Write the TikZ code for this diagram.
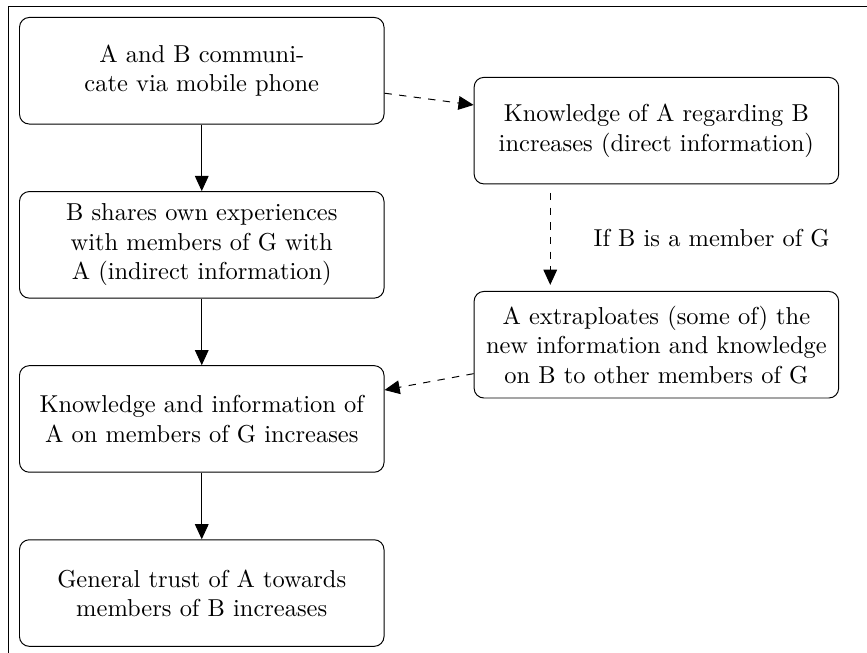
\documentclass[tikz,border=0pt]{standalone}
\usepackage{tikz}
\usetikzlibrary{arrows.meta, positioning}
\tikzstyle{arrow} = [->,>={Triangle[length=6.2pt,width=5.6pt]}]
\tikzstyle{process} = [rectangle, rounded corners, minimum width=5.23cm, minimum height=1.53cm, text width=5cm, align=center, draw=black]

\begin{document}
\begin{tikzpicture}[node distance=2.5cm]
%----------------------------------------------------------------------------
% Placement of flowchart nodes
\node (communicate) [process] {A and B communicate via mobile phone};
\node (sharesExperiences) [process, below of = communicate] {B shares own experiences with members of G with A (indirect information)};
\node (knowledgeGroup) [process, below of = sharesExperiences] {Knowledge and information of A on members of G increases};
\node (generalTrust) [process, below of = knowledgeGroup] {General trust of A towards members of B increases};

\node (knowledgeDirect) [process, right = 1.28cm of communicate, yshift=-0.86cm] {Knowledge of A regarding B increases (direct information)};
\node (extrapolate) [process, below = 1.53cm of knowledgeDirect] {A extraploates (some of) the new information and knowledge on B to other members of G};

%----------------------------------------------------------------------------
% Frame and page size
\coordinate (pageCorner) at ([shift={(-0.273,0.244)}]communicate.north west);
\coordinate (frameCorner) at ([shift={(-0.158,0.158)}]communicate.north west);
\useasboundingbox (pageCorner) rectangle ++(12.45,-9.363);
\draw ([xshift=13cm]frameCorner) -- (frameCorner) -- ([yshift=-10cm]frameCorner);

%----------------------------------------------------------------------------
% Draw lines
\draw [arrow] (communicate) -- (sharesExperiences);
\draw [arrow] (sharesExperiences) -- (knowledgeGroup);
\draw [arrow] (knowledgeGroup) -- (generalTrust);

%----------------------------------------------------------------------------
% Draw dashed lines
\draw [arrow, dashed] (communicate.-7.2) -- (knowledgeDirect.172.2);
\draw [arrow, dashed, shorten <=3.5pt, shorten >=2.5pt] ([xshift=1.1cm]knowledgeDirect.south west) -- node[right=5mm] {If B is a member of G} ([xshift=1.1cm]extrapolate.north west);
\draw [arrow, dashed] (extrapolate.189.2) -- (knowledgeGroup.9.8);

\end{tikzpicture}
\end{document}
